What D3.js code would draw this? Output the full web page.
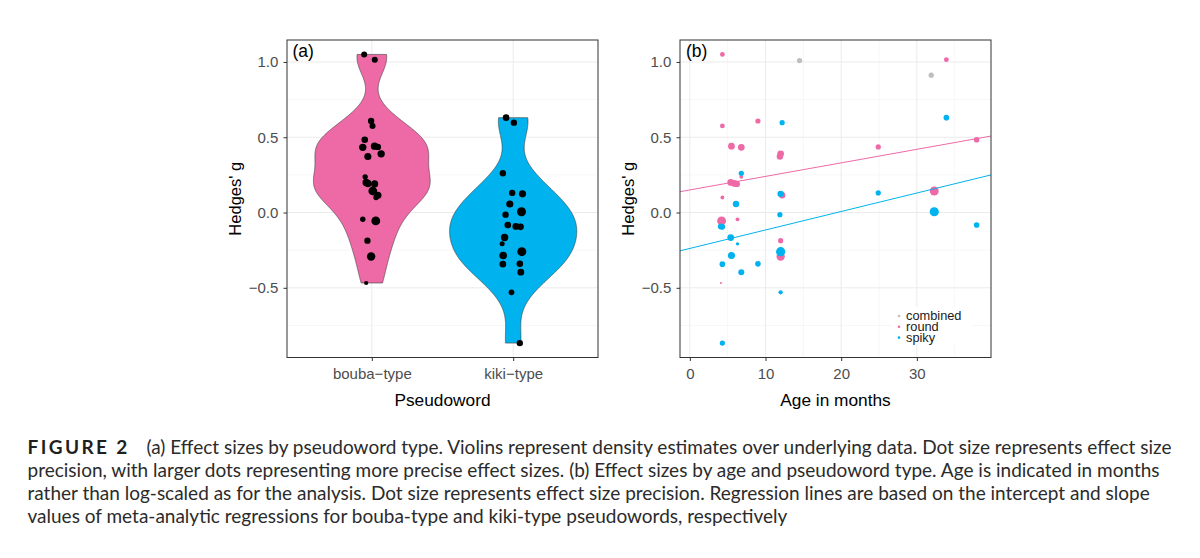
<!DOCTYPE html>
<html>
<head>
<meta charset="utf-8">
<script src="https://cdn.jsdelivr.net/npm/d3@7"></script>
<style>
  body { margin: 0; background: #fff; }
  svg text { font-family: "Liberation Sans", Arial, sans-serif; }
  svg text.caption { font-family: Lato, sans-serif; }
</style>
</head>
<body>
<svg id="fig" width="1200" height="558"></svg>
<script>
// bouba-type / round pseudowords
const roundG   = [1.05, 1.015, 0.608, 0.575, 0.483, 0.441, 0.436, 0.433, 0.39, 0.372, 0.237, 0.2, 0.193, 0.19, 0.143, 0.115, 0.1, -0.045, -0.056, -0.187, -0.292, -0.468];
const roundAge = [4.3, 33.9, 9.0, 4.3, 37.9, 5.5, 24.9, 6.8, 12.0, 11.9, 6.8, 5.4, 5.9, 6.2, 32.3, 12.2, 4.3, 6.3, 4.2, 12.0, 12.0, 4.1];
const roundPrec = [4, 4, 4.5, 4, 5, 6.5, 4.5, 6.5, 6.5, 6, 3, 6.5, 6.5, 6, 10, 6, 3, 3, 10, 4.5, 9, 1.5];
const roundJitter = [-0.054, 0.021, -0.005, 0.005, -0.05, 0.019, 0.043, -0.064, 0.066, -0.028, -0.047, -0.04, -0.028, 0.02, 0.007, 0.043, 0.03, -0.064, 0.028, -0.031, -0.005, -0.04];

// kiki-type / spiky pseudowords
const spikyG   = [0.63, 0.597, 0.261, 0.13, 0.124, 0.057, 0.005, -0.014, -0.083, -0.092, -0.095, -0.166, -0.208, -0.26, -0.285, -0.343, -0.341, -0.396, -0.53, -0.867];
const spikyAge = [33.9, 12.2, 6.8, 24.9, 12.0, 6.1, 32.3, 11.9, 37.9, 4.1, 4.3, 5.4, 6.3, 12.0, 5.5, 4.3, 9.0, 6.8, 12.0, 4.3];
const spikyPrec = [5, 4.5, 4.5, 4.5, 6, 6, 10.5, 4.5, 5, 5.5, 5, 6.5, 2.5, 10.5, 7, 5, 5, 5.5, 3.5, 4.5];
const spikyJitter = [-0.05, 0.005, -0.073, -0.007, 0.066, -0.024, 0.059, -0.054, -0.038, 0.019, 0.052, -0.061, -0.078, 0.061, -0.071, -0.073, 0.047, 0.054, -0.012, 0.047];

// combined
const combG   = [1.009, 0.912];
const combAge = [14.5, 31.9];
const combPrec = [4.5, 4.5];

const categories = ['bouba\u2212type', 'kiki\u2212type'];
const legendLabels = ['combined', 'round', 'spiky'];
const colors = { combined: '#BEBEBE', round: '#EE6AA7', spiky: '#00B2EE' };

// meta-analytic regression lines (round, spiky)
const regIntercept = [0.150, -0.2385];
const regSlope = [0.00899, 0.01227];

const yTicks = [-0.5, 0, 0.5, 1.0];
const yMinor = [-0.75, -0.25, 0.25, 0.75];
const ageTicks = [0, 10, 20, 30];
const ageMinor = [5, 15, 25, 35];

const captionHead = 'FIGURE 2';
const captionLines = [
  '(a) Effect sizes by pseudoword type. Violins represent density estimates over underlying data. Dot size represents effect size',
  'precision, with larger dots representing more precise effect sizes. (b) Effect sizes by age and pseudoword type. Age is indicated in months',
  'rather than log-scaled as for the analysis. Dot size represents effect size precision. Regression lines are based on the intercept and slope',
  'values of meta-analytic regressions for bouba-type and kiki-type pseudowords, respectively'
];

const svg = d3.select('#fig');
const fmt = d => d3.format('.1f')(d).replace('-', '\u2212');

const roundPts = roundG.map((g, i) => ({ g, age: roundAge[i], p: roundPrec[i], j: roundJitter[i], type: 'round', cat: 1 }));
const spikyPts = spikyG.map((g, i) => ({ g, age: spikyAge[i], p: spikyPrec[i], j: spikyJitter[i], type: 'spiky', cat: 2 }));
const combPts = combG.map((g, i) => ({ g, age: combAge[i], p: combPrec[i], type: 'combined' }));

// y range: data extent plus 5% on each side
const allG = roundG.concat(spikyG, combG);
const [gLo, gHi] = d3.extent(allG);
const pad = (gHi - gLo) * 0.05;
const yDomain = [gLo - pad, gHi + pad];

const precExt = d3.extent(roundPrec.concat(spikyPrec, combPrec));

const plotTop = 40, plotBottom = 357.5;

function frame(g, x, y, left, right, xMajor, xMinor) {
  const grid = g.append('g');
  grid.selectAll('.hmin').data(yMinor).enter().append('line')
    .attr('x1', left).attr('x2', right)
    .attr('y1', d => y(d)).attr('y2', d => y(d))
    .attr('stroke', '#F2F2F2').attr('stroke-width', 0.6);
  grid.selectAll('.vmin').data(xMinor).enter().append('line')
    .attr('y1', plotTop).attr('y2', plotBottom)
    .attr('x1', d => x(d)).attr('x2', d => x(d))
    .attr('stroke', '#F2F2F2').attr('stroke-width', 0.6);
  grid.selectAll('.hmaj').data(yTicks).enter().append('line')
    .attr('x1', left).attr('x2', right)
    .attr('y1', d => y(d)).attr('y2', d => y(d))
    .attr('stroke', '#EBEBEB').attr('stroke-width', 1);
  grid.selectAll('.vmaj').data(xMajor).enter().append('line')
    .attr('y1', plotTop).attr('y2', plotBottom)
    .attr('x1', d => x(d)).attr('x2', d => x(d))
    .attr('stroke', '#EBEBEB').attr('stroke-width', 1);
}

function axes(g, x, y, left, right, xMajor, xLabel, xTitle) {
  g.append('rect')
    .attr('x', left).attr('y', plotTop)
    .attr('width', right - left).attr('height', plotBottom - plotTop)
    .attr('fill', 'none').attr('stroke', '#333').attr('stroke-width', 1);

  const yAxis = g.append('g').attr('transform', `translate(${left},0)`)
    .call(d3.axisLeft(y).tickValues(yTicks).tickFormat(fmt).tickSize(3.5).tickPadding(5.2));
  yAxis.select('.domain').remove();
  yAxis.selectAll('.tick line').attr('stroke', '#333');
  yAxis.selectAll('.tick text').attr('fill', '#4D4D4D')
    .style('font-family', '"Liberation Sans", Arial, sans-serif').style('font-size', '15px');

  const xAxis = g.append('g').attr('transform', `translate(0,${plotBottom})`)
    .call(d3.axisBottom(x).tickValues(xMajor).tickFormat(xLabel).tickSize(3.5).tickPadding(7.5));
  xAxis.select('.domain').remove();
  xAxis.selectAll('.tick line').attr('stroke', '#333');
  xAxis.selectAll('.tick text').attr('fill', '#4D4D4D')
    .style('font-family', '"Liberation Sans", Arial, sans-serif').style('font-size', '15px');

  g.append('text')
    .attr('x', (left + right) / 2).attr('y', 406)
    .attr('text-anchor', 'middle')
    .style('font-size', '17.3px')
    .text(xTitle);

  g.append('text')
    .attr('transform', `translate(${left - 46.3},${(plotTop + plotBottom) / 2}) rotate(-90)`)
    .attr('text-anchor', 'middle')
    .style('font-size', '16.5px')
    .text("Hedges' g");
}

// ---------- panel (a): violins ----------
{
  const left = 287, right = 598;
  const x = d3.scaleLinear().domain([0.4, 2.6]).range([left, right]);
  const y = d3.scaleLinear().domain(yDomain).range([plotBottom, plotTop]);
  const r = d3.scaleSqrt().domain(precExt).range([2.1, 4.5]);
  const g = svg.append('g');

  frame(g, x, y, left, right, [1, 2], []);

  // gaussian kde with nrd0 bandwidth, trimmed to the data range
  const kde = values => {
    const sorted = values.slice().sort(d3.ascending);
    const iqr = d3.quantileSorted(sorted, 0.75) - d3.quantileSorted(sorted, 0.25);
    const bw = 0.9 * Math.min(d3.deviation(values), iqr / 1.34) * Math.pow(values.length, -0.2);
    const [lo, hi] = d3.extent(values);
    return d3.range(512).map(i => {
      const v = lo + (hi - lo) * i / 511;
      const dens = d3.mean(values, s => Math.exp(-0.5 * ((v - s) / bw) ** 2)) / (bw * Math.sqrt(2 * Math.PI));
      return [v, dens];
    });
  };

  const groups = [
    { cat: 1, type: 'round', dens: kde(roundG) },
    { cat: 2, type: 'spiky', dens: kde(spikyG) }
  ];
  const maxD = d3.max(groups, gr => d3.max(gr.dens, d => d[1]));

  groups.forEach(gr => {
    const area = d3.area()
      .y(d => y(d[0]))
      .x0(d => x(gr.cat - 0.45 * d[1] / maxD))
      .x1(d => x(gr.cat + 0.45 * d[1] / maxD));
    g.append('path')
      .datum(gr.dens)
      .attr('d', area)
      .attr('fill', colors[gr.type])
      .attr('stroke', '#3a3a3a')
      .attr('stroke-width', 0.6);
  });

  g.selectAll('.dotA').data(roundPts.concat(spikyPts)).enter().append('circle')
    .attr('cx', d => x(d.cat + d.j))
    .attr('cy', d => y(d.g))
    .attr('r', d => r(d.p))
    .attr('fill', '#000');

  axes(g, x, y, left, right, [1, 2], d => categories[d - 1], 'Pseudoword');

  g.append('text').attr('x', left + 5.5).attr('y', 56.5)
    .style('font-size', '17.5px').text('(a)');
}

// ---------- panel (b): age ----------
{
  const left = 680, right = 991;
  const x = d3.scaleLinear().domain([-1.3, 39.8]).range([left, right]);
  const y = d3.scaleLinear().domain(yDomain).range([plotBottom, plotTop]);
  const r = d3.scaleSqrt().domain(precExt).range([1, 4.6]);
  const g = svg.append('g');

  frame(g, x, y, left, right, ageTicks, ageMinor);

  svg.append('clipPath').attr('id', 'clipB').append('rect')
    .attr('x', left).attr('y', plotTop).attr('width', right - left).attr('height', plotBottom - plotTop);

  const pts = combPts.concat(roundPts, spikyPts);
  g.selectAll('.dotB').data(pts).enter().append('circle')
    .attr('cx', d => x(d.age))
    .attr('cy', d => y(d.g))
    .attr('r', d => r(d.p))
    .attr('fill', d => colors[d.type]);

  const [a0, a1] = x.domain();
  ['round', 'spiky'].forEach((type, i) => {
    g.append('line')
      .attr('clip-path', 'url(#clipB)')
      .attr('x1', x(a0)).attr('y1', y(regIntercept[i] + regSlope[i] * a0))
      .attr('x2', x(a1)).attr('y2', y(regIntercept[i] + regSlope[i] * a1))
      .attr('stroke', colors[type]).attr('stroke-width', 1);
  });

  // legend
  const lg = g.append('g').attr('transform', 'translate(893,307)');
  lg.append('rect').attr('width', 78).attr('height', 37).attr('fill', '#fff');
  legendLabels.forEach((lab, i) => {
    lg.append('circle').attr('cx', 6).attr('cy', 9 + i * 10.8).attr('r', 1.3).attr('fill', colors[lab]);
    lg.append('text').attr('x', 13).attr('y', 13.3 + i * 10.8)
      .style('font-size', '12.8px').attr('fill', '#1a1a1a').text(lab);
  });

  axes(g, x, y, left, right, ageTicks, d => d, 'Age in months');

  g.append('text').attr('x', left + 6).attr('y', 56.5)
    .style('font-size', '17.5px').text('(b)');
}

// ---------- caption ----------
{
  const cap = svg.append('g');
  const size = 19;
  cap.append('text').attr('class', 'caption')
    .attr('x', 27.5).attr('y', 454)
    .style('font-size', size + 'px').style('font-weight', 'bold')
    .style('letter-spacing', '2.4px').attr('fill', '#1f1f1f')
    .text(captionHead);
  captionLines.forEach((line, i) => {
    cap.append('text').attr('class', 'caption')
      .attr('x', i === 0 ? 146.5 : 27.5).attr('y', 454 + i * 23)
      .style('font-size', size + 'px').attr('fill', '#2b2b2b')
      .text(line);
  });
}
</script>
</body>
</html>
